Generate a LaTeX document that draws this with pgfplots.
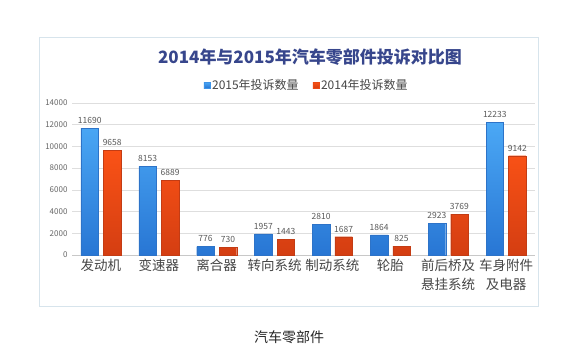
\documentclass[border=0pt]{standalone}
\usepackage{fontspec}
\setmainfont{Noto Sans CJK SC}
\usepackage{pgfplots}
\pgfplotsset{compat=1.18}
\definecolor{bluetop}{RGB}{75,168,245}
\definecolor{bluebot}{RGB}{40,118,212}
\definecolor{blueedge}{RGB}{45,115,200}
\definecolor{orgtop}{RGB}{250,82,22}
\definecolor{orgbot}{RGB}{212,62,18}
\definecolor{orgedge}{RGB}{195,60,20}
\definecolor{titleblue}{RGB}{55,70,140}
\definecolor{gridgray}{RGB}{222,222,222}
\definecolor{labgray}{RGB}{70,70,70}
\definecolor{frame}{RGB}{215,228,236}
\begin{document}
\begin{tikzpicture}[x=1pt,y=1pt]
\useasboundingbox[fill=white] (0,0) rectangle (574,360);
\draw[frame, line width=0.8pt] (39,54) rectangle (538,323);
\node[font=\fontsize{17}{20}\selectfont\bfseries, text=titleblue] at (310,303) {2014年与2015年汽车零部件投诉对比图};
\node[font=\fontsize{14}{16}\selectfont, text=black!85] at (289,23) {汽车零部件};
\begin{axis}[
  at={(72pt,105pt)}, anchor=south west,
  scale only axis, width=463pt, height=152pt,
  ybar, bar width=17.5pt,
  xmin=-0.5, xmax=7.5, ymin=0, ymax=14000,
  enlargelimits=false, clip=false,
  ytick={0,2000,4000,6000,8000,10000,12000,14000},
  xtick=data,
  xticklabels={{发动机},{变速器},{离合器},{转向系统},{制动系统},{轮胎},{前后桥及\\悬挂系统},{车身附件\\及电器}},
  xticklabel style={align=center, font=\fontsize{13.5}{19}\selectfont, text=labgray, anchor=north, yshift=-1pt},
  yticklabel style={font=\fontsize{8}{9}\selectfont, text=black!60, xshift=-1pt},
  /pgf/number format/assume math mode=true,
  /pgf/number format/1000 sep={},
  scaled y ticks=false,
  axis x line*=bottom, axis y line*=left,
  y axis line style={draw=none},
  x axis line style={draw={rgb,255:red,200;green,200;blue,200}},
  major tick length=0pt,
  ymajorgrids, grid style={gridgray, line width=0.6pt},
  nodes near coords,
  every node near coord/.append style={font=\fontsize{8.5}{9}\selectfont, text=black!65, yshift=1pt},
  legend columns=2,
  legend style={at={(rel axis cs:0.507,1.118)}, anchor=center, draw=none, fill=none,
    font=\fontsize{12}{14}\selectfont, text=labgray,
    /tikz/every even column/.append style={column sep=12pt}},
  legend image code/.code={\fill[#1] (0pt,-3pt) rectangle (6pt,3pt);},
]
\addplot[bar shift=-11.25pt, top color=bluetop, bottom color=bluebot, draw=blueedge, line width=0.3pt,
  legend image code/.code={\fill[bluetop!60!bluebot] (0pt,-3pt) rectangle (6pt,3pt);}]
  coordinates {(0,11690) (1,8153) (2,776) (3,1957) (4,2810) (5,1864) (6,2923) (7,12233)};
\addplot[bar shift=11.25pt, top color=orgtop, bottom color=orgbot, draw=orgedge, line width=0.3pt,
  legend image code/.code={\fill[orgtop!60!orgbot] (0pt,-3pt) rectangle (6pt,3pt);}]
  coordinates {(0,9658) (1,6889) (2,730) (3,1443) (4,1687) (5,825) (6,3769) (7,9142)};
\legend{2015年投诉数量, 2014年投诉数量}
\end{axis}
\end{tikzpicture}
\end{document}
